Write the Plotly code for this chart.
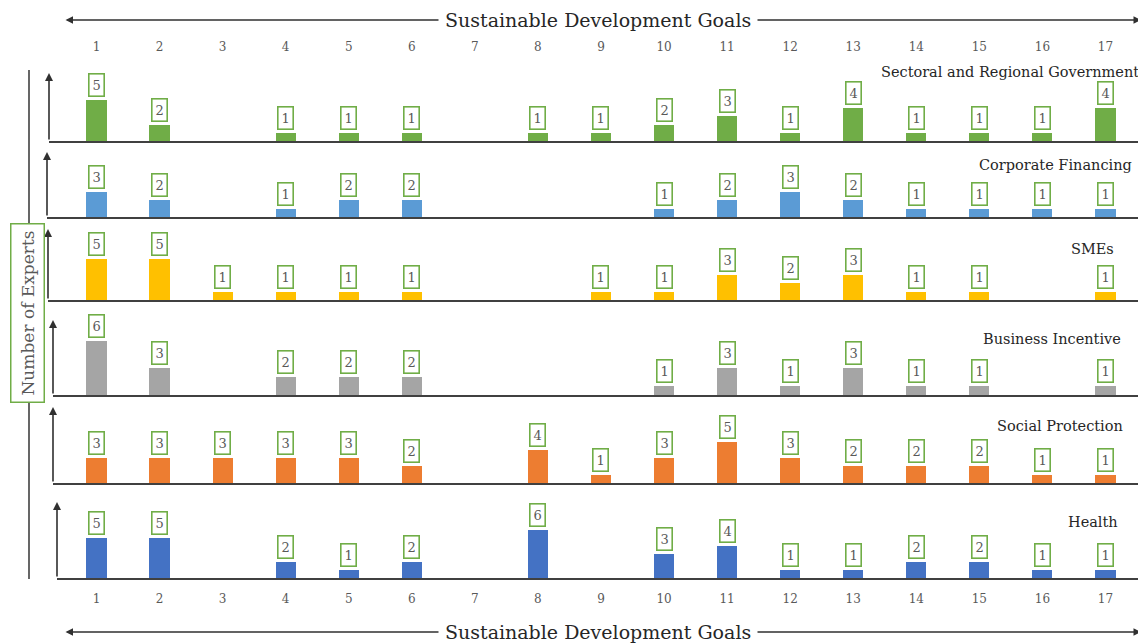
import plotly.graph_objects as go

# ---------------- data ----------------
goals = list(range(1, 18))
goal_labels = [str(g) for g in goals]

sectoral_regional_government = [5, 2, 0, 1, 1, 1, 0, 1, 1, 2, 3, 1, 4, 1, 1, 1, 4]
corporate_financing = [3, 2, 0, 1, 2, 2, 0, 0, 0, 1, 2, 3, 2, 1, 1, 1, 1]
smes = [5, 5, 1, 1, 1, 1, 0, 0, 1, 1, 3, 2, 3, 1, 1, 0, 1]
business_incentive = [6, 3, 0, 2, 2, 2, 0, 0, 0, 1, 3, 1, 3, 1, 1, 0, 1]
social_protection = [3, 3, 3, 3, 3, 2, 0, 4, 1, 3, 5, 3, 2, 2, 2, 1, 1]
health = [5, 5, 0, 2, 1, 2, 0, 6, 0, 3, 4, 1, 1, 2, 2, 1, 1]

panel_names = ["Sectoral and Regional Government", "Corporate Financing", "SMEs",
               "Business Incentive", "Social Protection", "Health"]
panel_series = [sectoral_regional_government, corporate_financing, smes,
                business_incentive, social_protection, health]
panel_colors = ["#70AD47", "#5B9BD5", "#FFC000", "#A5A5A5", "#ED7D31", "#4472C4"]

axis_title_x = "Sustainable Development Goals"
axis_title_y = "Number of Experts"

# ---------------- layout geometry (page pixels) ----------------
PAGE_W, PAGE_H = 1146, 644
OFF = 8                      # default body margin of the html page
W, H = PAGE_W - OFF, PAGE_H - OFF

axis_left_px = [49, 47, 48, 53, 53, 57]
top_px = [73, 152, 229, 320, 407, 502]
base_px = [141, 217, 300, 395, 483, 578]
unit_px = [8.2, 8.3, 8.3, 9.0, 8.3, 8.0]
title_y_px = [72, 165, 249, 339, 426, 522]
title_right_px = [1141, 1134, 1116, 1123, 1125, 1120]
x1_px, step_px, right_px = 96.5, 63.06, 1139

FONT = "DejaVu Serif"
LINE = "#404040"
TXT = "#262626"
LBL = "#595959"
GREEN = "#70AD47"


def fx(p):   # page px -> paper x
    return (p - OFF) / W


def fy(p):   # page px -> paper y
    return 1 - (p - OFF) / H


def px2v(p):  # page px -> goal value
    return 1 + (p - x1_px) / step_px


fig = go.Figure()
annotations = []
layout_axes = {}

for i, (name, vals, col) in enumerate(zip(panel_names, panel_series, panel_colors)):
    xa = "x" if i == 0 else f"x{i+1}"
    ya = "y" if i == 0 else f"y{i+1}"
    fig.add_trace(go.Bar(x=goals, y=vals, marker=dict(color=col, line=dict(width=0)),
                         width=0.32, xaxis=xa, yaxis=ya, showlegend=False, name=name))
    left, top, base = axis_left_px[i], top_px[i], base_px[i]
    layout_axes["xaxis" if i == 0 else f"xaxis{i+1}"] = dict(
        domain=[fx(left), fx(right_px)], range=[px2v(left), px2v(right_px)],
        anchor=ya, showline=True, linecolor=LINE, linewidth=1.6,
        showticklabels=False, showgrid=False, zeroline=False, ticks="", fixedrange=True)
    layout_axes["yaxis" if i == 0 else f"yaxis{i+1}"] = dict(
        domain=[fy(base), fy(top)], range=[0, (base - top) / unit_px[i]],
        anchor=xa, visible=False, showgrid=False, zeroline=False, fixedrange=True)
    # vertical axis arrow
    annotations.append(dict(xref="paper", yref="paper", x=fx(left), y=fy(top), ax=0, ay=base - top,
                            text="", showarrow=True, arrowhead=2, arrowsize=1, arrowwidth=1.6,
                            arrowcolor="#303030", standoff=0))
    # panel title
    annotations.append(dict(xref="paper", yref="paper", x=fx(title_right_px[i]), y=fy(title_y_px[i]),
                            xanchor="right", yanchor="middle", text=name, showarrow=False,
                            font=dict(family=FONT, size=14.5, color=TXT)))
    # value labels
    for g, v in zip(goals, vals):
        if v > 0:
            annotations.append(dict(xref=xa, yref=ya, x=g, y=v, text=str(v), showarrow=False,
                                    xanchor="center", yanchor="bottom", yshift=3, bgcolor="white",
                                    bordercolor=GREEN, borderwidth=1.6, borderpad=3,
                                    font=dict(family=FONT, size=13, color=LBL)))

# top & bottom goal tick label axes
tick_axis = dict(domain=[0, 1], range=[px2v(OFF), px2v(PAGE_W)], anchor="free",
                 tickmode="array", tickvals=goals, ticktext=goal_labels,
                 showline=False, showgrid=False, zeroline=False, ticks="",
                 tickfont=dict(family=FONT, size=12, color=LBL), fixedrange=True)
layout_axes["xaxis7"] = dict(tick_axis, side="top", position=fy(53))
layout_axes["xaxis8"] = dict(tick_axis, side="bottom", position=fy(590))
fig.add_trace(go.Scatter(x=[], y=[], xaxis="x7", yaxis="y", showlegend=False))
fig.add_trace(go.Scatter(x=[], y=[], xaxis="x8", yaxis="y6", showlegend=False))

# horizontal double arrows with the axis title
for yp in (20, 632):
    annotations.append(dict(xref="paper", yref="paper", x=fx(1141), y=fy(yp), ax=-(1141 - 64), ay=0,
                            text="", showarrow=True, arrowhead=2, arrowside="end+start",
                            arrowsize=1, arrowwidth=1.5, arrowcolor="#303030", standoff=0, startstandoff=0))
    annotations.append(dict(xref="paper", yref="paper", x=fx(598), y=fy(yp), text=axis_title_x,
                            xanchor="center", yanchor="middle",
                            showarrow=False, bgcolor="white", borderpad=6,
                            font=dict(family=FONT, size=19, color=TXT)))

# left vertical line with boxed y title
shapes = [dict(type="line", xref="paper", yref="paper", x0=fx(29), x1=fx(29),
               y0=fy(70), y1=fy(579), line=dict(color=LINE, width=1.6))]
annotations.append(dict(xref="paper", yref="paper", x=fx(27), y=fy(313), text=axis_title_y,
                        xanchor="center", yanchor="middle",
                        textangle=-90, showarrow=False, bgcolor="white", bordercolor=GREEN,
                        borderwidth=1.5, borderpad=6, font=dict(family=FONT, size=17, color=LBL)))

fig.update_layout(width=W, height=H, margin=dict(l=0, r=0, t=0, b=0),
                  paper_bgcolor="white", plot_bgcolor="rgba(0,0,0,0)",
                  annotations=annotations, shapes=shapes, bargap=0, **layout_axes)

fig.write_html("out.html")
